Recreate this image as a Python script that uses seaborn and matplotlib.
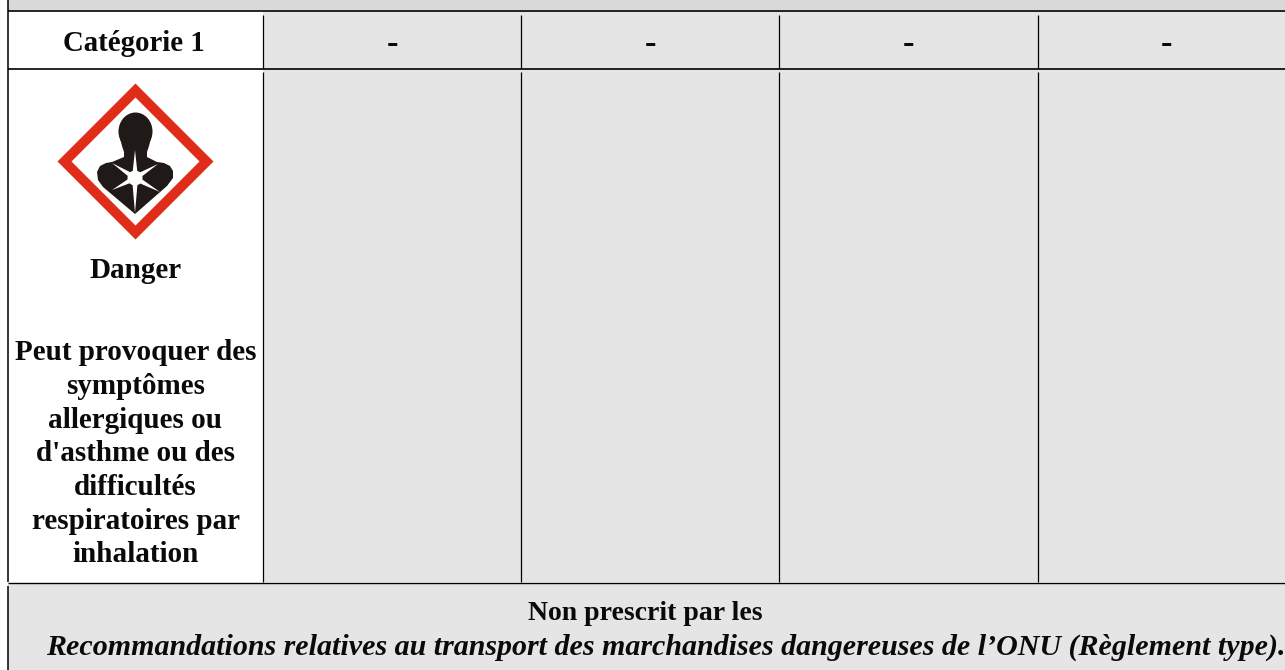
import numpy as np
import matplotlib
matplotlib.use("Agg")
import matplotlib.pyplot as plt
from matplotlib.colors import ListedColormap
from matplotlib.patches import Polygon, Ellipse, Circle
import seaborn as sns

# ---- content -------------------------------------------------------------
first_row_labels = ["Catégorie 1", "-", "-", "-", "-"]
first_row_shading = [0, 1, 1, 1, 1]
second_row_shading = [0, 1, 1, 1, 1]
signal_word = "Danger"
hazard_lines = ["Peut provoquer des", "symptômes", "allergiques ou", "d'asthme ou des",
                "difficultés", "respiratoires par", "inhalation"]
hazard_baselines = [360.5, 394, 428, 461, 495, 529, 562]
footer_plain = "Non prescrit par les"
footer_italic = "Recommandations relatives au transport des marchandises dangereuses de l’ONU (Règlement type)."

W, H = 1285, 670
GREY = "#e5e5e5"
BAND = "#d9d9d9"
INK = "#0a0a0a"
FONT = "Liberation Serif"
plt.rcParams["font.family"] = [FONT, "DejaVu Serif"]

fig = plt.figure(figsize=(W / 100, H / 100), dpi=100, facecolor="white")
cmap = ListedColormap(["white", GREY])


def px_axes(x0, y0, x1, y1, **kw):
    return fig.add_axes([x0 / W, 1 - y1 / H, (x1 - x0) / W, (y1 - y0) / H], **kw)


# table rows: five equal columns, the last running off the right edge
GRID_L, GRID_R = 5, 1295
ax1 = px_axes(GRID_L, 11, GRID_R, 68)
sns.heatmap(np.array([first_row_shading]), ax=ax1, cmap=cmap, vmin=0, vmax=1, cbar=False,
            annot=np.array([first_row_labels]), fmt="",
            annot_kws={"fontsize": 20.8, "fontweight": "bold", "color": INK, "family": FONT, "va": "baseline"},
            xticklabels=False, yticklabels=False)
for t in ax1.texts:
    if t.get_text() == "-":
        t.set_fontsize(25)
        t.set_y(0.74)
    else:
        t.set_y(0.695)
ax2 = px_axes(GRID_L, 68, GRID_R, 582)
sns.heatmap(np.array([second_row_shading]), ax=ax2, cmap=cmap, vmin=0, vmax=1, cbar=False,
            xticklabels=False, yticklabels=False)

# overlay in pixel coordinates
ov = fig.add_axes([0, 0, 1, 1], zorder=5)
ov.set_xlim(0, W)
ov.set_ylim(H, 0)
ov.axis("off")
ov.patch.set_alpha(0)

ov.fill_between([8, W], 0, 10, color=BAND, lw=0)
ov.fill_between([8, W], 583, H, color=GREY, lw=0)

LINE = dict(color="black", solid_capstyle="butt")
for y in (10.5, 68.5):
    ov.plot([8, W], [y, y], lw=1.2, **LINE)
ov.plot([8, W], [582.5, 582.5], lw=1.0, **LINE)
ov.plot([8, 8], [0, 582], lw=1.1, **LINE)
ov.plot([8, 8], [586, H], lw=1.1, **LINE)
for x in (263, 521, 779, 1038):
    ov.plot([x, x], [15, 68], lw=0.9, **LINE)
    ov.plot([x, x], [72, 582], lw=0.9, **LINE)

# GHS08 pictogram
CX, CY = 135.5, 161.5
ov.add_patch(Polygon([(CX, CY - 78), (CX + 78, CY), (CX, CY + 78), (CX - 78, CY)], fc="#e02d1a", ec="none", zorder=3))
ov.add_patch(Polygon([(CX, CY - 64), (CX + 64, CY), (CX, CY + 64), (CX - 64, CY)], fc="white", ec="none", zorder=3))
BLACK = "#1f1a17"
ov.add_patch(Ellipse((135.5, 131.5), 34, 38, fc=BLACK, ec="none", zorder=4))
body = [(119, 134), (122, 146), (124, 152), (124, 157), (112, 162), (106, 163), (100, 166), (97, 172), (98, 180), (103, 187),
        (135, 214), (167, 186), (173, 178), (173, 171), (170, 166), (164, 163), (157, 162), (147, 157), (147, 152), (149, 146), (152, 134)]
ov.add_patch(Polygon(body, fc=BLACK, ec="none", zorder=4))
star_centre = (135, 178)
star_tips = [(135, 150), (158, 164), (160, 192), (135, 213), (112, 190), (112, 163)]
for tip in star_tips:
    d = np.subtract(tip, star_centre, dtype=float)
    n = np.array([-d[1], d[0]]) / np.hypot(*d) * 3
    ov.add_patch(Polygon([star_centre + n, tip, star_centre - n], fc="white", ec="none", zorder=5))
ov.add_patch(Circle(star_centre, 7.5, fc="white", ec="none", zorder=5))

# text
BOLD = dict(ha="center", va="baseline", fontweight="bold", color=INK)
ov.text(135.5, 277.5, signal_word, zorder=6, fontsize=21, **BOLD)
for line, y in zip(hazard_lines, hazard_baselines):
    ov.text(135.5, y, line, zorder=6, fontsize=21, **BOLD)
ov.text(645, 620, footer_plain, zorder=6, fontsize=20, **BOLD)
ov.text(666, 655, footer_italic, zorder=6, fontstyle="italic", fontsize=21.6, clip_on=True, **BOLD)

fig.savefig("out.png", dpi=100, facecolor="white")
